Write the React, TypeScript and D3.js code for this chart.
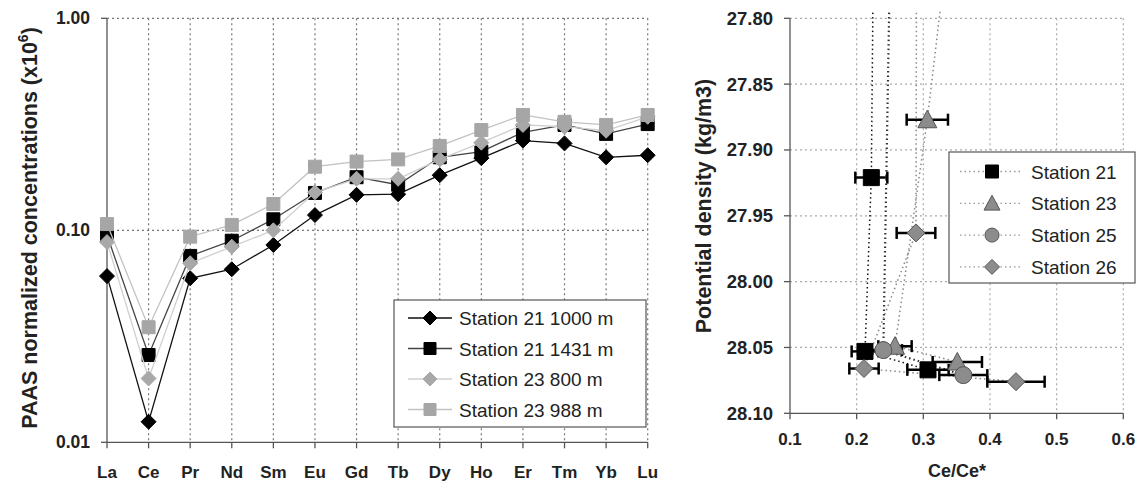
import React, { useRef, useEffect } from "react";
import * as d3 from "d3";

// left panel: REE patterns
const elements = ["La", "Ce", "Pr", "Nd", "Sm", "Eu", "Gd", "Tb", "Dy", "Ho", "Er", "Tm", "Yb", "Lu"];
const st21_1000 = [0.0608, 0.0125, 0.0594, 0.0655, 0.0853, 0.118, 0.147, 0.148, 0.182, 0.219, 0.265, 0.257, 0.221, 0.226];
const st21_1431 = [0.095, 0.0258, 0.0757, 0.0893, 0.1127, 0.15, 0.178, 0.164, 0.221, 0.235, 0.29, 0.314, 0.285, 0.317];
const st23_800 = [0.088, 0.02, 0.0699, 0.0837, 0.1, 0.151, 0.175, 0.175, 0.216, 0.259, 0.314, 0.308, 0.295, 0.343];
const st23_988 = [0.107, 0.0349, 0.0933, 0.106, 0.133, 0.1995, 0.211, 0.216, 0.25, 0.297, 0.35, 0.325, 0.314, 0.35];
const leftTicks = [1, 0.1, 0.01];
const leftNames = ["Station 21 1000 m", "Station 21 1431 m", "Station 23 800 m", "Station 23 988 m"];

// right panel: Ce anomaly vs density (first point of each station lies above the plotted range)
const st21Ce = [0.226, 0.222, 0.2125, 0.307];
const st21Err = [0, 0.024, 0.02, 0.031];
const st21Dens = [27.7, 27.921, 28.053, 28.067];
const st23Ce = [0.347, 0.306, 0.2575, 0.351];
const st23Err = [0, 0.031, 0.025, 0.037];
const st23Dens = [27.7, 27.877, 28.049, 28.061];
const st25Ce = [0.252, 0.24, 0.36];
const st25Err = [0, 0.028, 0.036];
const st25Dens = [27.7, 28.052, 28.071];
const st26Ce = [0.29, 0.289, 0.211, 0.439];
const st26Err = [0, 0.029, 0.022, 0.043];
const st26Dens = [27.7, 27.963, 28.066, 28.076];
const rightXTicks = [0.1, 0.2, 0.3, 0.4, 0.5, 0.6];
const rightYTicks = [27.8, 27.85, 27.9, 27.95, 28.0, 28.05, 28.1];
const rightNames = ["Station 21", "Station 23", "Station 25", "Station 26"];

const W = 1137;
const H = 485;
const FONT = "'Liberation Sans', Arial, sans-serif";

type Sel = d3.Selection<SVGGElement, unknown, null, undefined>;

// draws one marker centred on x,y
function marker(g: Sel, type: string, x: number, y: number, s: number, fill: string, stroke: string) {
  if (type === "circle") {
    g.append("circle").attr("cx", x).attr("cy", y).attr("r", s).attr("fill", fill).attr("stroke", stroke).attr("stroke-width", 1);
    return;
  }
  let d = "";
  if (type === "diamond") d = `M${x},${y - s}L${x + s},${y}L${x},${y + s}L${x - s},${y}Z`;
  if (type === "square") d = `M${x - s},${y - s}h${2 * s}v${2 * s}h${-2 * s}Z`;
  if (type === "triangle") d = `M${x},${y - s}L${x + s},${y + s * 0.85}L${x - s},${y + s * 0.85}Z`;
  g.append("path").attr("d", d).attr("fill", fill).attr("stroke", stroke).attr("stroke-width", 1);
}

const App = () => {
  const ref = useRef<SVGSVGElement>(null);

  useEffect(() => {
    if (!ref.current) return;
    const svg = d3.select(ref.current);
    svg.selectAll("*").remove();

    // ---------------- left chart ----------------
    const x = d3.scalePoint().domain(elements).range([107, 647.7]);
    const y = d3.scaleLog().domain([0.01, 1]).range([442.3, 18.3]);
    const L = svg.append("g") as unknown as Sel;

    // grid
    L.selectAll(".vg")
      .data(elements.slice(1))
      .enter()
      .append("line")
      .attr("x1", (d) => x(d) ?? 0)
      .attr("x2", (d) => x(d) ?? 0)
      .attr("y1", y(1))
      .attr("y2", y(0.01))
      .attr("stroke", "#777")
      .attr("stroke-width", 1.2)
      .attr("stroke-dasharray", "2,3");
    L.selectAll(".hg")
      .data([1, 0.1])
      .enter()
      .append("line")
      .attr("x1", 107)
      .attr("x2", 647.7)
      .attr("y1", (d) => y(d))
      .attr("y2", (d) => y(d))
      .attr("stroke", "#777")
      .attr("stroke-width", 1.2)
      .attr("stroke-dasharray", "2,3");

    // axes
    L.append("line").attr("x1", 107).attr("x2", 107).attr("y1", y(1)).attr("y2", y(0.01)).attr("stroke", "#555").attr("stroke-width", 1.3);
    L.append("line").attr("x1", 107).attr("x2", 647.7).attr("y1", y(0.01)).attr("y2", y(0.01)).attr("stroke", "#555").attr("stroke-width", 1.3);
    elements.forEach((e) => {
      L.append("line").attr("x1", x(e) ?? 0).attr("x2", x(e) ?? 0).attr("y1", y(0.01)).attr("y2", y(0.01) + 6).attr("stroke", "#555").attr("stroke-width", 1.3);
      L.append("text")
        .attr("x", x(e) ?? 0)
        .attr("y", 478)
        .attr("text-anchor", "middle")
        .attr("font-family", FONT)
        .attr("font-weight", "bold")
        .attr("font-size", 17)
        .attr("fill", "#222")
        .text(e);
    });
    leftTicks.forEach((t) => {
      L.append("line").attr("x1", 101).attr("x2", 107).attr("y1", y(t)).attr("y2", y(t)).attr("stroke", "#555").attr("stroke-width", 1.3);
      L.append("text")
        .attr("x", 90)
        .attr("y", y(t) + 6)
        .attr("text-anchor", "end")
        .attr("font-family", FONT)
        .attr("font-weight", "bold")
        .attr("font-size", 17.5)
        .attr("fill", "#222")
        .text(d3.format(".2f")(t));
    });

    // y title
    const yt = L.append("text")
      .attr("transform", "translate(37,228) rotate(-90)")
      .attr("text-anchor", "middle")
      .attr("font-family", FONT)
      .attr("font-weight", "bold")
      .attr("font-size", 21.5)
      .attr("fill", "#222");
    yt.append("tspan").text("PAAS normalized concentrations (x10");
    yt.append("tspan").attr("dy", -9).attr("font-size", 14).text("6");
    yt.append("tspan").attr("dy", 9).text(")");

    // series
    const series = [
      { v: st21_1000, line: "#111", m: "diamond", s: 7.5, fill: "#000", stroke: "#000" },
      { v: st21_1431, line: "#444", m: "square", s: 6.5, fill: "#000", stroke: "#000" },
      { v: st23_800, line: "#cfcfcf", m: "diamond", s: 7.5, fill: "#a8a8a8", stroke: "#a8a8a8" },
      { v: st23_988, line: "#c2c2c2", m: "square", s: 6.5, fill: "#a6a6a6", stroke: "#a6a6a6" },
    ];
    const lineGen = d3
      .line<number>()
      .x((_, i) => x(elements[i]) ?? 0)
      .y((d) => y(d));
    series.forEach((s) => {
      L.append("path").attr("d", lineGen(s.v) ?? "").attr("fill", "none").attr("stroke", s.line).attr("stroke-width", 1.3);
      s.v.forEach((v, i) => marker(L, s.m, x(elements[i]) ?? 0, y(v), s.s, s.fill, s.stroke));
    });

    // legend
    L.append("rect").attr("x", 394).attr("y", 300).attr("width", 252).attr("height", 127).attr("fill", "#fff").attr("stroke", "#555").attr("stroke-width", 1.2);
    series.forEach((s, i) => {
      const ly = 318 + i * 30.5;
      L.append("line").attr("x1", 408).attr("x2", 452).attr("y1", ly).attr("y2", ly).attr("stroke", s.line).attr("stroke-width", 1.3);
      marker(L, s.m, 430, ly, s.s - 0.5, s.fill, s.stroke);
      L.append("text")
        .attr("x", 459)
        .attr("y", ly + 7)
        .attr("font-family", FONT)
        .attr("font-size", 19)
        .attr("fill", "#222")
        .text(leftNames[i]);
    });

    // ---------------- right chart ----------------
    const rx = d3.scaleLinear().domain([0.1, 0.6]).range([790, 1123.3]);
    const ry = d3.scaleLinear().domain([27.8, 28.1]).range([18.3, 413.3]);
    const R = svg.append("g") as unknown as Sel;

    R.selectAll(".rvg")
      .data(rightXTicks.slice(1))
      .enter()
      .append("line")
      .attr("x1", (d) => rx(d))
      .attr("x2", (d) => rx(d))
      .attr("y1", ry(27.8))
      .attr("y2", ry(28.1))
      .attr("stroke", "#aaa")
      .attr("stroke-width", 1.2)
      .attr("stroke-dasharray", "2,3");
    R.selectAll(".rhg")
      .data(rightYTicks.slice(0, -1))
      .enter()
      .append("line")
      .attr("x1", 790)
      .attr("x2", 1123.3)
      .attr("y1", (d) => ry(d))
      .attr("y2", (d) => ry(d))
      .attr("stroke", "#aaa")
      .attr("stroke-width", 1.2)
      .attr("stroke-dasharray", "2,3");

    R.append("line").attr("x1", 790).attr("x2", 790).attr("y1", ry(27.8)).attr("y2", ry(28.1)).attr("stroke", "#555").attr("stroke-width", 1.3);
    R.append("line").attr("x1", 790).attr("x2", 1123.3).attr("y1", ry(28.1)).attr("y2", ry(28.1)).attr("stroke", "#555").attr("stroke-width", 1.3);
    rightXTicks.forEach((t) => {
      R.append("line").attr("x1", rx(t)).attr("x2", rx(t)).attr("y1", ry(28.1)).attr("y2", ry(28.1) + 6).attr("stroke", "#555").attr("stroke-width", 1.3);
      R.append("text")
        .attr("x", rx(t))
        .attr("y", 445)
        .attr("text-anchor", "middle")
        .attr("font-family", FONT)
        .attr("font-weight", "bold")
        .attr("font-size", 17)
        .attr("fill", "#222")
        .text(d3.format(".1f")(t));
    });
    rightYTicks.forEach((t) => {
      R.append("line").attr("x1", 784).attr("x2", 790).attr("y1", ry(t)).attr("y2", ry(t)).attr("stroke", "#555").attr("stroke-width", 1.3);
      R.append("text")
        .attr("x", 773)
        .attr("y", ry(t) + 6.5)
        .attr("text-anchor", "end")
        .attr("font-family", FONT)
        .attr("font-weight", "bold")
        .attr("font-size", 18.5)
        .attr("fill", "#222")
        .text(d3.format(".2f")(t));
    });
    R.append("text")
      .attr("transform", "translate(711,206) rotate(-90)")
      .attr("text-anchor", "middle")
      .attr("font-family", FONT)
      .attr("font-weight", "bold")
      .attr("font-size", 21.5)
      .attr("fill", "#222")
      .text("Potential density (kg/m3)");
    R.append("text")
      .attr("x", 957)
      .attr("y", 477)
      .attr("text-anchor", "middle")
      .attr("font-family", FONT)
      .attr("font-weight", "bold")
      .attr("font-size", 18)
      .attr("fill", "#222")
      .text("Ce/Ce*");

    const stations = [
      { ce: st21Ce, err: st21Err, dens: st21Dens, line: "#111", lw: 1.5, m: "square", s: 8, fill: "#000", stroke: "#000" },
      { ce: st23Ce, err: st23Err, dens: st23Dens, line: "#888", lw: 1.5, m: "triangle", s: 9.5, fill: "#8c8c8c", stroke: "#555" },
      { ce: st25Ce, err: st25Err, dens: st25Dens, line: "#333", lw: 2.2, m: "circle", s: 8.5, fill: "#8c8c8c", stroke: "#555" },
      { ce: st26Ce, err: st26Err, dens: st26Dens, line: "#888", lw: 1.5, m: "diamond", s: 9, fill: "#8c8c8c", stroke: "#555" },
    ];

    svg
      .append("defs")
      .append("clipPath")
      .attr("id", "rclip")
      .append("rect")
      .attr("x", 790)
      .attr("y", 10)
      .attr("width", 340)
      .attr("height", 410);
    const P = R.append("g").attr("clip-path", "url(#rclip)") as unknown as Sel;

    stations.forEach((s) => {
      const pts = s.ce.map((c, i) => [rx(c), ry(s.dens[i])] as [number, number]);
      P.append("path")
        .attr("d", d3.line()(pts) ?? "")
        .attr("fill", "none")
        .attr("stroke", s.line)
        .attr("stroke-width", s.lw)
        .attr("stroke-dasharray", "1.5,3");
    });
    stations.forEach((s) => {
      s.ce.forEach((c, i) => {
        if (!s.err[i]) return;
        const cy = ry(s.dens[i]);
        const x0 = rx(c - s.err[i]);
        const x1 = rx(c + s.err[i]);
        P.append("line").attr("x1", x0).attr("x2", x1).attr("y1", cy).attr("y2", cy).attr("stroke", "#000").attr("stroke-width", 2.5);
        [x0, x1].forEach((xe) =>
          P.append("line").attr("x1", xe).attr("x2", xe).attr("y1", cy - 6).attr("y2", cy + 6).attr("stroke", "#000").attr("stroke-width", 2.5)
        );
      });
    });
    stations.forEach((s) => {
      s.ce.forEach((c, i) => {
        if (s.dens[i] < 27.8) return;
        marker(P, s.m, rx(c), ry(s.dens[i]), s.s, s.fill, s.stroke);
      });
    });

    // right legend
    R.append("rect").attr("x", 949).attr("y", 152).attr("width", 186).attr("height", 131).attr("fill", "#fff").attr("stroke", "#555").attr("stroke-width", 1.2);
    stations.forEach((s, i) => {
      const ly = 171.5 + i * 31.8;
      R.append("line").attr("x1", 960).attr("x2", 1020).attr("y1", ly).attr("y2", ly).attr("stroke", "#999").attr("stroke-width", 1.3).attr("stroke-dasharray", "1.5,3");
      marker(R, s.m, 992, ly, s.s - 1.5, s.fill, s.stroke);
      R.append("text")
        .attr("x", 1031)
        .attr("y", ly + 7)
        .attr("font-family", FONT)
        .attr("font-size", 19)
        .attr("fill", "#222")
        .text(rightNames[i]);
    });
  }, []);

  return (
    <svg
      ref={ref}
      width={W}
      height={H}
      style={{ position: "absolute", left: 0, top: 0, background: "#fff" }}
    />
  );
};

export default App;
